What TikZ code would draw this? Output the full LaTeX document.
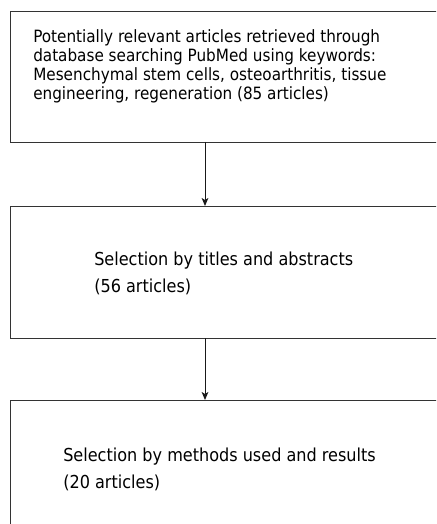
\documentclass[tikz,border=0pt]{standalone}
\usepackage{fontspec}
\setmainfont{DejaVu Sans Condensed}
\usetikzlibrary{arrows.meta}

\begin{document}
\begin{tikzpicture}[x=0.75pt,y=-0.75pt,
	box/.style={draw=black!80, line width=0.8pt, rectangle, anchor=north west, inner sep=0pt},
	txt/.style={anchor=base west, inner sep=0pt, font=\fontsize{13.4}{20.25}\selectfont, align=left},
	flow/.style={draw=black!90, line width=0.7pt, -{Stealth[length=6pt,width=5pt,inset=1.5pt]}}]

	\useasboundingbox (0,0) rectangle (436,524);
	\clip (0,0) rectangle (436,524);

	\node[box, minimum width=440*0.75pt, minimum height=131*0.75pt] (search) at (10,11) {};
	\node[box, minimum width=440*0.75pt, minimum height=132*0.75pt] (titles) at (10,206) {};
	\node[box, minimum width=440*0.75pt, minimum height=140*0.75pt] (methods) at (10,400) {};

	% base anchor = last line
	\node[txt, font=\fontsize{12.7}{14.25}\selectfont] (searchtxt) at (33,100) {Potentially relevant articles retrieved through\\database searching PubMed using keywords:\\Mesenchymal stem cells, osteoarthritis, tissue\\engineering, regeneration (85 articles)};
	\node[txt] (titlestxt) at (94,292) {Selection by titles and abstracts\\(56 articles)};
	\node[txt] (methodstxt) at (63,488) {Selection by methods used and results\\(20 articles)};

	\coordinate (a1) at (205,142);
	\coordinate (a2) at (205,338);
	\draw[flow] (a1) -- (a1 |- titles.north);
	\draw[flow] (a2) -- (a2 |- methods.north);

\end{tikzpicture}
\end{document}
